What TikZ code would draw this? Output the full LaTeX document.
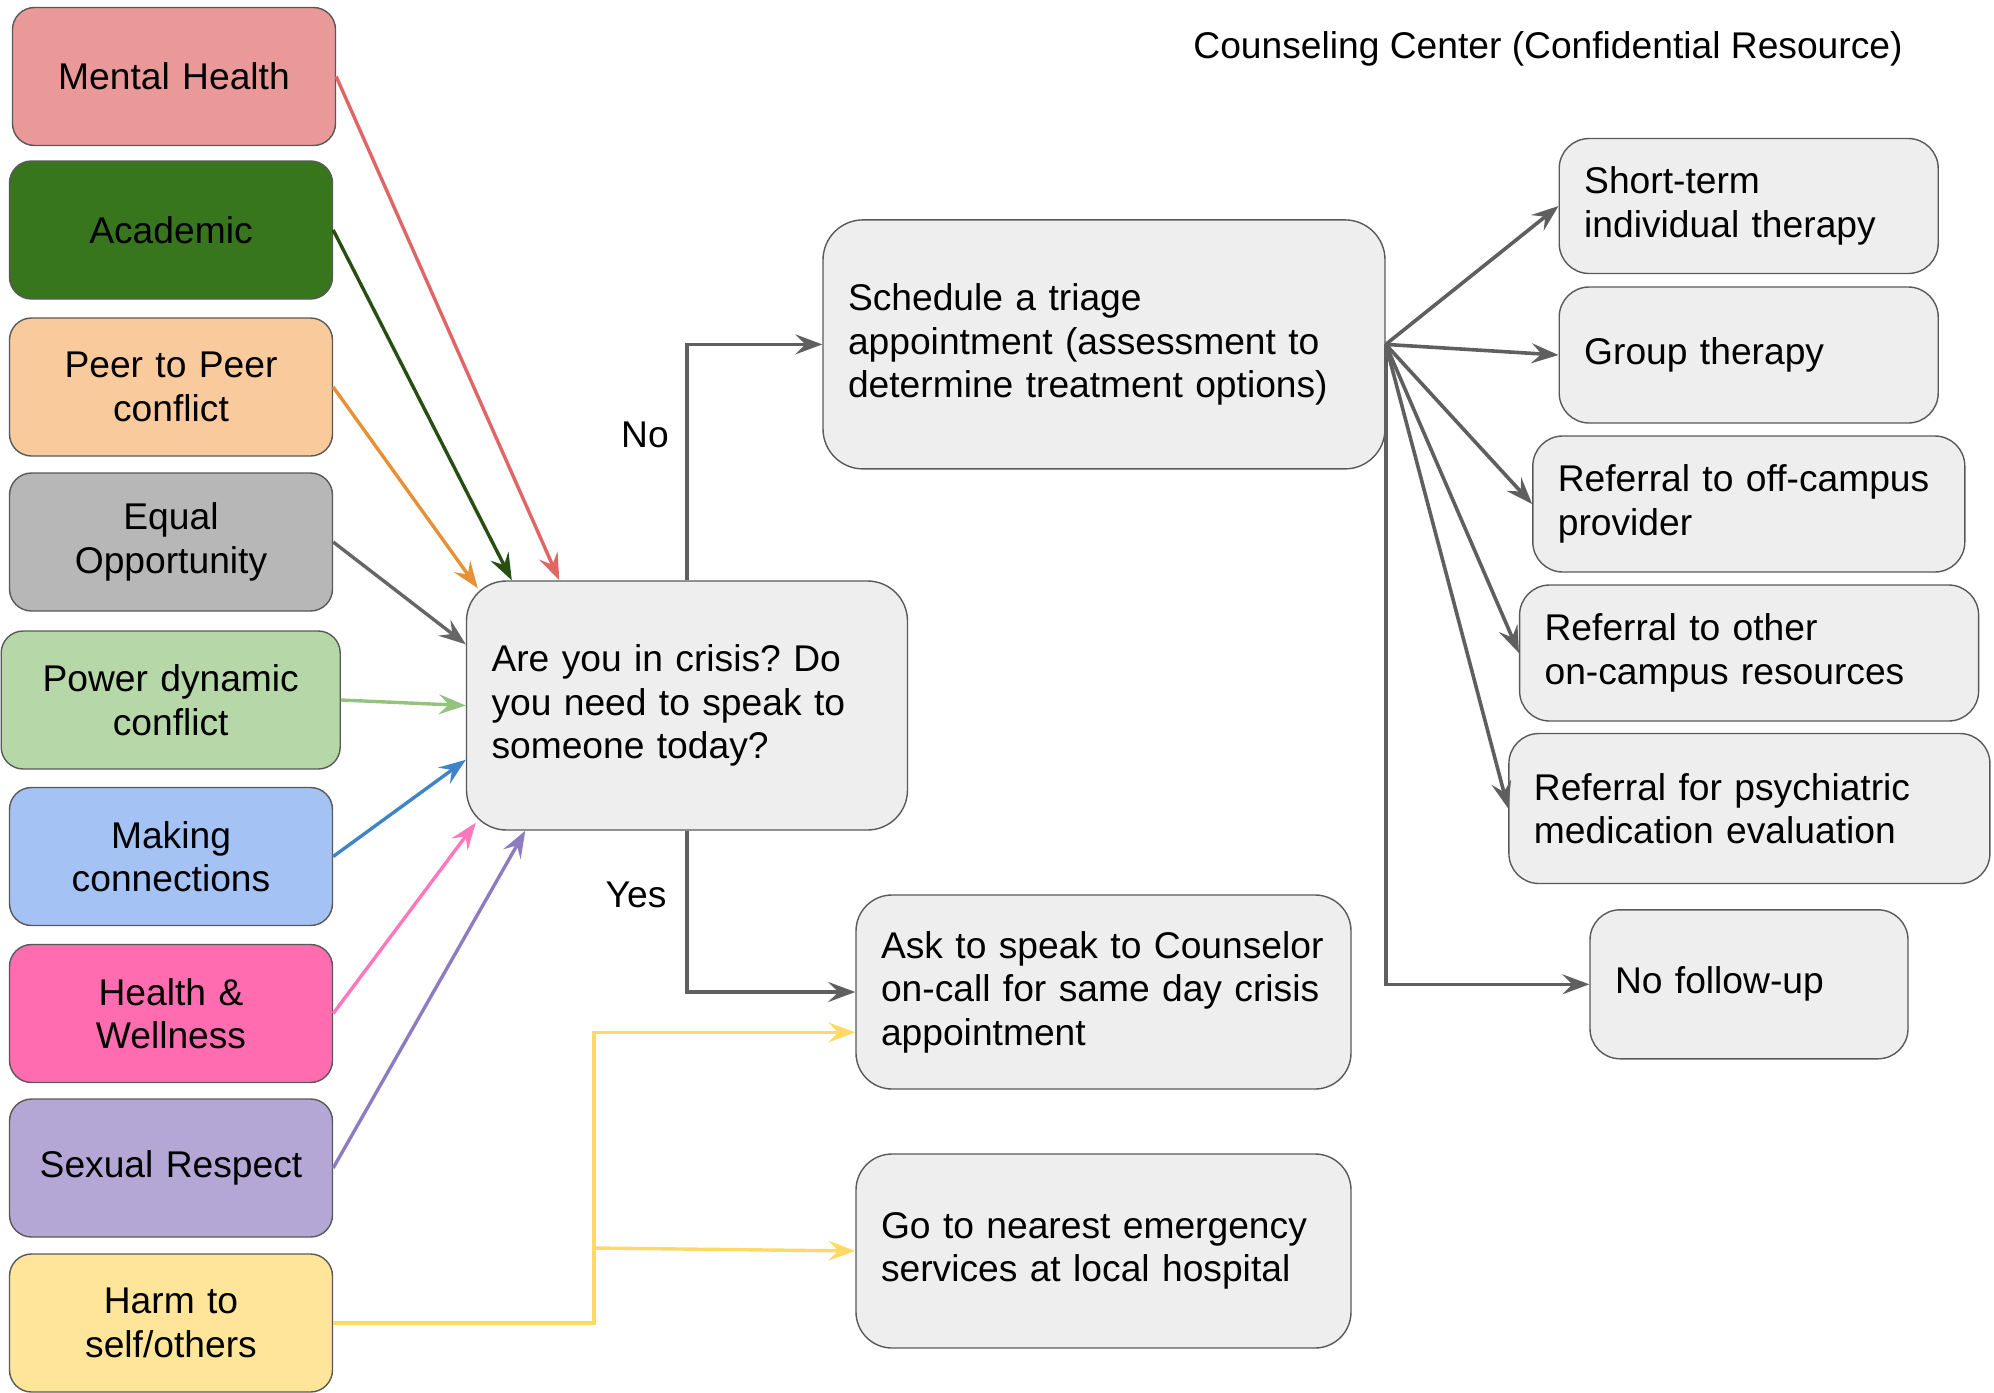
\documentclass[tikz,border=0pt]{standalone}
\usepackage{fontspec}
\setmainfont{Liberation Sans}
\usetikzlibrary{arrows.meta, positioning, calc}
\definecolor{boxline}{HTML}{595959}
\definecolor{boxgray}{HTML}{EEEEEE}
\definecolor{linegray}{HTML}{5F5F5F}
% topic fills
\definecolor{mhfill}{HTML}{EA9999}
\definecolor{acadfill}{HTML}{38761D}
\definecolor{peerfill}{HTML}{F9CB9C}
\definecolor{equalfill}{HTML}{B7B7B7}
\definecolor{powerfill}{HTML}{B6D7A8}
\definecolor{makingfill}{HTML}{A4C2F4}
\definecolor{healthfill}{HTML}{FF6DB0}
\definecolor{sexualfill}{HTML}{B4A7D6}
\definecolor{harmfill}{HTML}{FFE599}
% topic arrows
\definecolor{mhline}{HTML}{E06666}
\definecolor{acadline}{HTML}{274E13}
\definecolor{peerline}{HTML}{E69138}
\definecolor{equalline}{HTML}{666666}
\definecolor{powerline}{HTML}{93C47D}
\definecolor{makingline}{HTML}{3D85C6}
\definecolor{healthline}{HTML}{FF78BE}
\definecolor{sexualline}{HTML}{8E7CC3}
\definecolor{harmline}{HTML}{FFD966}
\newcommand{\boxfont}{\fontsize{37.2}{43.5}\selectfont\frenchspacing\hyphenpenalty=10000\exhyphenpenalty=10000}
\tikzset{
	topic/.style={rectangle, rounded corners=22pt, draw=boxline, line width=1.4pt, fill=#1,
		minimum width=323pt, minimum height=138pt, text width=310pt, align=center,
		font=\boxfont},
	option/.style 2 args={rectangle, rounded corners=30pt, draw=boxline, line width=1.4pt, fill=boxgray,
		inner xsep=25pt, text width=#1, minimum height=#2, align=left,
		font=\boxfont},
	plain/.style={font=\boxfont},
	feed/.style={line width=3.4pt, -{Stealth[length=27pt, width=20pt, inset=10pt]}},
	route/.style={line width=3.6pt, color=linegray, -{Stealth[length=27pt, width=20pt, inset=10pt]}}
}

\begin{document}
\begin{tikzpicture}[x=1pt, y=-1pt]
		\useasboundingbox (0,0) rectangle (1994,1392);
		
		% Topics on the left
		\node[topic=mhfill] (mh) at (174,76.5) {Mental Health};
		\node[topic=acadfill] (acad) at (171,230) {Academic};
		\node[topic=peerfill] (peer) at (171,387) {Peer to Peer\\conflict};
		\node[topic=equalfill] (equal) at (171,542) {Equal\\Opportunity};
		\node[topic=powerfill, minimum width=339pt] (power) at (170.7,700) {Power dynamic\\conflict};
		\node[topic=makingfill] (making) at (171,856.5) {Making\\connections};
		\node[topic=healthfill] (health) at (171,1013.5) {Health \&\\Wellness};
		\node[topic=sexualfill] (sexual) at (171,1168) {Sexual Respect};
		\node[topic=harmfill] (harm) at (171,1323) {Harm to\\self/others};
		
		% Middle column
		\node[option={391pt}{249pt}, rounded corners=40pt] (crisis) at (687,705.5) {Are you in crisis? Do\\you need to speak to\\someone today?};
		\node[option={512pt}{249pt}, rounded corners=40pt] (sched) at (1104,344.4) {Schedule a triage\\appointment (assessment to\\determine treatment options)};
		\node[option={445pt}{194pt}, rounded corners=36pt] (ask) at (1103.5,992) {Ask to speak to Counselor\\on-call for same day crisis\\appointment};
		\node[option={445pt}{194pt}, rounded corners=36pt] (go) at (1103.5,1251) {Go to nearest emergency\\services at local hospital};
		
		% Counseling center options
		\node[plain] (title) at (1548,49) {Counseling Center (Confidential Resource)};
		\node[option={329pt}{135pt}] (short) at (1748.7,206) {Short-term\\individual therapy};
		\node[option={329pt}{136pt}] (group) at (1748.7,355) {Group therapy};
		\node[option={382pt}{136pt}] (offc) at (1748.8,504) {Referral to off-campus\\provider};
		\node[option={409pt}{136pt}] (oncamp) at (1749.1,653) {Referral to other\\on-campus resources};
		\node[option={431pt}{150pt}] (psych) at (1749.4,808.5) {Referral for psychiatric\\medication evaluation};
		\node[option={268pt}{149pt}] (nofu) at (1749,984.3) {No follow-up};
		
		% Answer labels
		\node[plain] (no) at (645,435) {No};
		\node[plain] (yes) at (636,895) {Yes};
		
		% Topics into the question
		\draw[feed, color=mhline] (mh.east) -- ($(crisis.north west)+(93.5,0)$);
		\draw[feed, color=acadline] (acad.east) -- ($(crisis.north west)+(46,0)$);
		\draw[feed, color=peerline] (peer.east) -- ($(crisis.north west)+(12,8)$);
		\draw[feed, color=equalline] (equal.east) -- ($(crisis.north west)+(0,64)$);
		\draw[feed, color=powerline] (power.east) -- (crisis.west);
		\draw[feed, color=makingline] (making.east) -- ($(crisis.north west)+(0,179.5)$);
		\draw[feed, color=healthline] (health.east) -- ($(crisis.south west)+(10,-8)$);
		\draw[feed, color=sexualline] (sexual.east) -- ($(crisis.south west)+(59.5,0)$);
		
		% Harm goes straight to crisis options
		\coordinate (hup) at (594,1032.4);
		\coordinate (hsplit) at (594,1248);
		\draw[feed, color=harmline] (harm.east) -| (hup) -- (hup -| ask.west);
		\draw[feed, color=harmline] (hsplit) -- (go.west);
		
		% No / Yes
		\draw[route] (crisis.north) |- (sched.west);
		\draw[route] (crisis.south) |- (ask.west);
		
		% Triage outcomes
		\draw[route] (sched.east) -- (short.west);
		\draw[route] (sched.east) -- (group.west);
		\draw[route] (sched.east) -- (offc.west);
		\draw[route] (sched.east) -- (oncamp.west);
		\draw[route] (sched.east) -- (psych.west);
		\draw[route] (sched.east) |- (nofu.west);
		
	\end{tikzpicture}
\end{document}
